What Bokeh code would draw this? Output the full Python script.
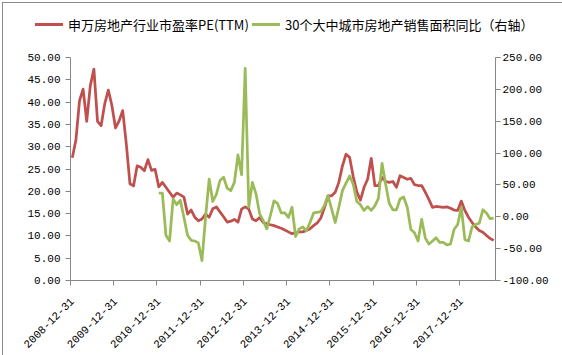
import math
import calendar
from bokeh.plotting import figure
from bokeh.layouts import column
from bokeh.models import (Range1d, LinearAxis, FixedTicker, PrintfTickFormatter,
                          ColumnDataSource, Div)
from bokeh.embed import file_html
from bokeh.resources import INLINE

# ---------------- data ----------------
# monthly categories, 2008-12-31 ... 2018-09-30
start_year, start_month, n_months = 2008, 12, 118
dates = []
y, m = start_year, start_month
for _ in range(n_months):
    dates.append(f"{y:04d}-{m:02d}-{calendar.monthrange(y, m)[1]:02d}")
    m += 1
    if m > 12:
        m, y = 1, y + 1

tick_labels = ["2008-12-31", "2009-12-31", "2010-12-31", "2011-12-31", "2012-12-31",
               "2013-12-31", "2014-12-31", "2015-12-31", "2016-12-31", "2017-12-31"]

series_pe_name = "申万房地产行业市盈率PE(TTM)"
series_pe = [
    27.5, 31.5, 40.3, 42.9, 35.7, 43.7, 47.4, 35.7, 34.7, 39.6, 42.7, 39.2,
    34.2, 35.8, 38.1, 30.6, 21.7, 21.2, 25.7, 25.4, 24.6, 27.1, 24.7, 24.9,
    21.0, 22.0, 20.9, 19.8, 18.7, 19.6, 19.2, 18.7, 14.9, 15.8, 14.2, 13.4,
    13.8, 14.9, 14.2, 16.1, 16.5, 15.4, 14.3, 13.1, 13.3, 13.7, 13.1, 16.0,
    16.5, 16.0, 13.8, 13.4, 14.1, 13.0, 12.7, 12.5, 12.3, 12.0, 11.7, 11.3,
    10.9, 10.5, 10.7, 10.9, 10.9, 11.2, 11.6, 12.3, 12.9, 14.0, 16.3, 19.0,
    19.0, 19.8, 22.0, 25.7, 28.3, 27.6, 23.3, 19.9, 18.0, 20.9, 22.7, 27.4,
    21.3, 21.3, 23.1, 22.2, 22.0, 22.2, 20.9, 23.5, 23.1, 22.7, 22.9, 21.5,
    21.3, 21.3, 19.8, 18.2, 16.4, 16.6, 16.5, 16.4, 16.5, 16.2, 15.8, 15.7,
    17.8, 15.7, 14.2, 13.0, 12.0, 11.2, 10.8, 10.1, 9.4, 9.0,
]

series_sales_name = "30个大中城市房地产销售面积同比（右轴）"
series_sales_start = "2010-12-31"
series_sales = [
    37, 37, -29, -38, 28, 19, 26, -1, -29, -37, -38, -41,
    -69, -1, 59, 24, 35, 57, 62, 45, 41, 54, 97, 66,
    233, 15, 54, 36, 5, -6, -19, 2, 25, 21, 6, 6,
    -1, 15, -31, -19, -16, -22, -9, 6, 7, 8, 18, 33,
    12, -9, 15, 41, 53, 64, 51, 24, 19, 10, 16, 10,
    17, 29, 84, 51, 21, 11, 11, 28, 31, 15, -20, -25,
    -38, -4, -33, -43, -38, -33, -40, -40, -44, -43, -20, -12,
    15, -36, -38, -16, -12, -10, 11, 6, -3, -2,
]

left_ticks = [0, 5, 10, 15, 20, 25, 30, 35, 40, 45, 50]
right_ticks = [-100, -50, 0, 50, 100, 150, 200, 250]

RED = "#C0504D"
GREEN = "#9BBB59"
LW = 2.75

# ---------------- sources ----------------
pos = {d: i + 0.5 for i, d in enumerate(dates)}  # categories centred between ticks
src_pe = ColumnDataSource(dict(x=[pos[d] for d in dates], y=series_pe))
s0 = dates.index(series_sales_start)
sales_dates = dates[s0:s0 + len(series_sales)]
src_sales = ColumnDataSource(dict(x=[pos[d] for d in sales_dates], y=series_sales))

tick_pos = [dates.index(t) for t in tick_labels]

# ---------------- page geometry ----------------
W, H = 562, 355
B_LEFT, B_RIGHT, B_BOTTOM = 70, 67, 85
LEG_H = 40
LEG_Y = 19

# ---------------- legend strip (HTML, real text) ----------------
legend_layout = [  # (key start, key width, text start, colour, label)
    (30, 28, 63, RED, series_pe_name),
    (247, 28, 280, GREEN, series_sales_name),
]
parts = []
for kx, kw, tx, col, lab in legend_layout:
    parts.append(f'<span style="position:absolute;left:{kx}px;top:{LEG_Y - 1.5}px;'
                 f'width:{kw}px;height:3px;background:{col};"></span>')
    parts.append(f'<span style="position:absolute;left:{tx}px;top:{LEG_Y}px;'
                 f'transform:translateY(-50%);line-height:1;white-space:nowrap;">{lab}</span>')
legend_html = (f'<div style="position:relative;width:{W}px;height:{LEG_H}px;'
               f"font-family:'Noto Sans CJK SC';font-size:13px;color:#000000;\">"
               + "".join(parts) + "</div>")
lg = Div(text=legend_html, width=W, height=LEG_H)

# ---------------- main chart ----------------
p = figure(width=W, height=H - LEG_H, output_backend="svg", toolbar_location=None,
           x_range=Range1d(0, len(dates)), y_range=Range1d(0, 50),
           min_border_left=B_LEFT, min_border_right=B_RIGHT, min_border_top=7,
           min_border_bottom=B_BOTTOM)
p.extra_y_ranges = {"right": Range1d(-100, 250)}
p.xgrid.visible = False
p.ygrid.visible = False
p.outline_line_color = None
p.background_fill_color = "white"
p.border_fill_color = "white"

AX = "#868686"
NUMFONT = "Liberation Mono"


def style_axis(ax):
    ax.axis_line_color = AX
    ax.major_tick_line_color = AX
    ax.minor_tick_line_color = None
    ax.major_tick_in = 0
    ax.major_tick_out = 5
    ax.major_label_text_font = NUMFONT
    ax.major_label_text_font_size = "11px"
    ax.major_label_text_color = "#000000"


yl = p.yaxis[0]
style_axis(yl)
yl.ticker = FixedTicker(ticks=left_ticks)
yl.formatter = PrintfTickFormatter(format="%.2f")
yl.major_label_standoff = 5

yr = LinearAxis(y_range_name="right")
style_axis(yr)
yr.ticker = FixedTicker(ticks=right_ticks)
yr.formatter = PrintfTickFormatter(format="%.2f")
yr.major_label_standoff = 2
p.add_layout(yr, "right")

# bottom axis: line + tick marks at year boundaries
xb = p.xaxis[0]
style_axis(xb)
xb.ticker = FixedTicker(ticks=tick_pos)
xb.major_label_overrides = {tp: "" for tp in tick_pos}
xb.major_label_standoff = 0

# label axis: rotated date labels centred on their category
label_pos = [tp + 0.5 for tp in tick_pos]
xl = LinearAxis()
style_axis(xl)
xl.axis_line_color = None
xl.major_tick_line_color = None
xl.major_tick_out = 0
xl.ticker = FixedTicker(ticks=label_pos)
xl.major_label_overrides = {lp: lab for lp, lab in zip(label_pos, tick_labels)}
xl.major_label_orientation = math.pi / 4
xl.major_label_standoff = 14
p.add_layout(xl, "below")

p.line("x", "y", source=src_pe, line_color=RED, line_width=LW, line_join="round")
p.line("x", "y", source=src_sales, y_range_name="right", line_color=GREEN,
       line_width=LW, line_join="round")

page = column(lg, p, spacing=0)
page.stylesheets = [":host::after { content: ''; position: absolute; left: 2px; top: 2px; "
                    "right: 2px; bottom: 2px; border: 1px solid #8a8a8a; "
                    "pointer-events: none; z-index: 100; }"]

open("out.html", "w").write(file_html(page, INLINE))
